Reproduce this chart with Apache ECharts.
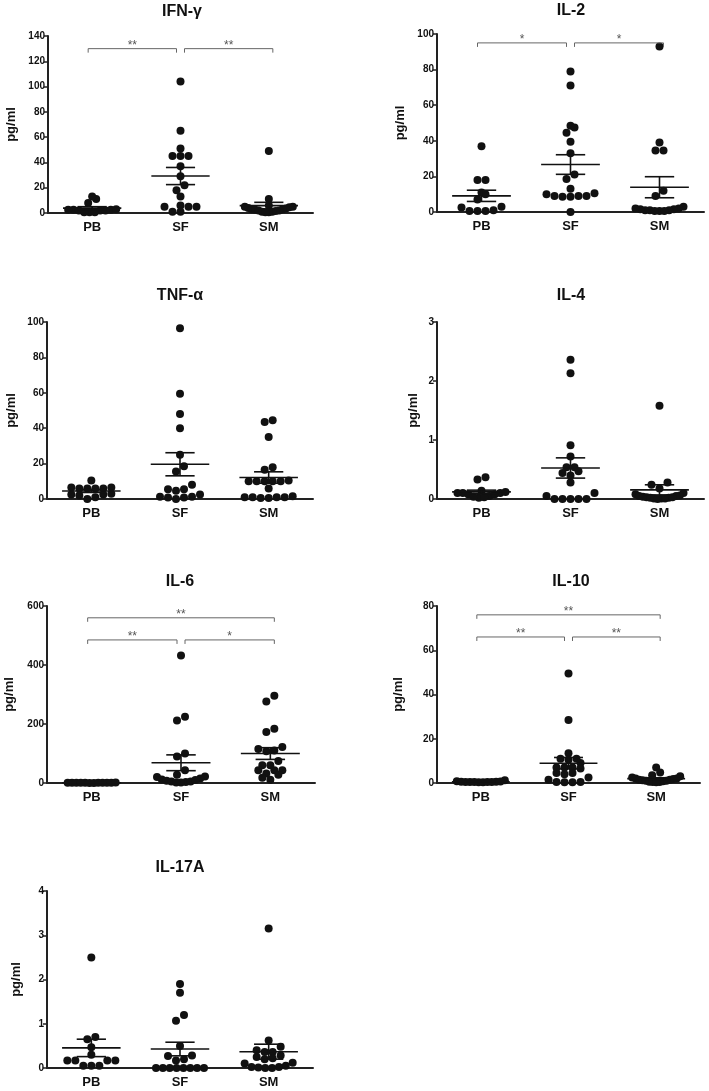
<!DOCTYPE html>
<html>
<head>
<meta charset="utf-8">
<script src="https://cdn.jsdelivr.net/npm/echarts@6/dist/echarts.min.js"></script>
<style>
  html, body { margin: 0; padding: 0; background: #fff; }
  #chart { width: 709px; height: 1091px; }
</style>
</head>
<body>
<div id="chart"></div>
<script>
const groups = ["PB", "SF", "SM"];
const titles = ["IFN-γ", "IL-2", "TNF-α", "IL-4", "IL-6", "IL-10", "IL-17A"];
const yMax = [140, 100, 100, 3, 600, 80, 4];
const yStep = [20, 20, 20, 1, 200, 20, 1];

// pg/ml per sample
const ifnPB = [11, 13, 8, 2.5, 2, 2.5, 2, 3, 2, 2.5, 0.5, 0.5, 0.5];
const ifnSF = [104, 65, 51, 45, 45, 45, 37, 29, 22, 18, 13, 5, 5, 5, 6, 1, 1];
const ifnSM = [49, 11, 6, 5, 5, 4.5, 4, 3.5, 3, 3, 2.5, 2, 2, 1.5, 1, 1, 0.5, 0.5];

const il2PB = [37, 18, 18, 11, 10, 7, 3, 2.5, 0.5, 0.5, 0.5, 1];
const il2SF = [79, 71, 48.5, 47.5, 44.5, 39.5, 33, 21, 18.5, 13, 10.5, 10, 9, 9, 8.5, 8.5, 9, 0];
const il2SM = [93, 39, 34.5, 34.5, 12, 9, 3, 2, 1.5, 1, 1, 0.5, 0.5, 0.5, 1, 1.5, 2];

const tnfPB = [10.4, 6.5, 6, 6, 6, 6, 6.5, 3, 2.5, 2.5, 2, 0, 1];
const tnfSF = [96.5, 59.5, 48, 40, 25, 18.5, 15.5, 8, 5.5, 5.5, 4.7, 2.6, 1.3, 0.8, 0, 0.8, 1.3];
const tnfSM = [44.5, 43.5, 35, 18, 16.5, 10, 10, 10.5, 10, 10, 10, 6, 1, 1, 0.5, 0.5, 1, 1, 1.5];

const il4PB = [0.37, 0.33, 0.1, 0.1, 0.08, 0.12, 0.14, 0.1, 0.05, 0.02, 0.03, 0.04, 0.08];
const il4SF = [2.36, 2.13, 0.91, 0.72, 0.54, 0.54, 0.47, 0.44, 0.4, 0.28, 0.1, 0.05, 0, 0, 0, 0, 0];
const il4SM = [1.58, 0.28, 0.24, 0.18, 0.1, 0.08, 0.06, 0.05, 0.04, 0.03, 0.02, 0.02, 0.01, 0.01, 0.01, 0, 0.05, 0.03];

const il6PB = [1, 0.8, 1.2, 0.5, 0.3, 1, 0.6, 0.4, 1.5, 0.7, 0.9, 0.5];
const il6SF = [432, 225, 212, 100, 90, 43, 28, 22, 20, 15, 12, 8, 5, 3, 2, 2, 5, 10];
const il6SM = [296, 276, 184, 173, 122, 115, 110, 108, 75, 60, 60, 43, 43, 43, 28, 32, 18, 11];

const il10PB = [0.3, 0.5, 0.4, 0.8, 1.2, 0.6, 0.5, 0.3, 0.4, 0.7, 0.5, 0.6];
const il10SF = [49.5, 28.5, 13.5, 11, 11, 10.5, 9, 7, 7, 7, 6.5, 4.5, 4.5, 4, 2.5, 1.5, 0.5, 0.5, 0.3, 0.3];
const il10SM = [7, 4.7, 3.5, 3, 2.5, 2, 2, 1.8, 1.5, 1.5, 1.2, 1, 1, 0.8, 0.6, 0.5, 0.5, 0.3];

const il17PB = [2.5, 0.65, 0.7, 0.47, 0.3, 0.17, 0.17, 0.17, 0.17, 0.05, 0.05, 0.05];
const il17SF = [1.9, 1.7, 1.2, 1.07, 0.5, 0.28, 0.27, 0.2, 0.17, 0, 0, 0, 0, 0, 0, 0, 0];
const il17SM = [3.15, 0.62, 0.48, 0.4, 0.36, 0.36, 0.28, 0.25, 0.22, 0.2, 0.12, 0.1, 0.05, 0.02, 0.02, 0.01, 0, 0];

// significance brackets: [from group, to group, height]
const ifnBrackets = [[0, 1, 130], [1, 2, 130]];
const ifnStars = ["**", "**"];
const il2Brackets = [[0, 1, 95], [1, 2, 95]];
const il2Stars = ["*", "*"];
const il6Brackets = [[0, 2, 560], [0, 1, 485], [1, 2, 485]];
const il6Stars = ["**", "**", "*"];
const il10Brackets = [[0, 2, 76], [0, 1, 66], [1, 2, 66]];
const il10Stars = ["**", "**", "**"];

const panelData = [
  [ifnPB, ifnSF, ifnSM],
  [il2PB, il2SF, il2SM],
  [tnfPB, tnfSF, tnfSM],
  [il4PB, il4SF, il4SM],
  [il6PB, il6SF, il6SM],
  [il10PB, il10SF, il10SM],
  [il17PB, il17SF, il17SM],
];
const panelBrackets = [ifnBrackets, il2Brackets, [], [], il6Brackets, il10Brackets, []];
const panelStars = [ifnStars, il2Stars, [], [], il6Stars, il10Stars, []];

const grids = [
  { left: 48, top: 36, width: 265, height: 177 },
  { left: 437, top: 34, width: 267, height: 178 },
  { left: 47, top: 322, width: 266, height: 177 },
  { left: 437, top: 322, width: 267, height: 177 },
  { left: 47, top: 606, width: 268, height: 177 },
  { left: 437, top: 606, width: 263, height: 177 },
  { left: 47, top: 891, width: 266, height: 177 },
];
const titlePos = [[182, 4], [571, 3], [180, 288], [571, 288], [180, 574], [571, 574], [180, 860]];
const nameGaps = [30, 30, 29, 17, 31, 32, 24];

const FONT = "Liberation Sans, Arial, sans-serif";
const INK = "#111";

function mean(a) {
  return a.reduce((s, v) => s + v, 0) / a.length;
}
function sem(a) {
  const m = mean(a);
  const ss = a.reduce((s, v) => s + (v - m) * (v - m), 0);
  return Math.sqrt(ss / (a.length - 1)) / Math.sqrt(a.length);
}

// prism-like scatter: points close in height share a row, centred on the group
function swarm(api, values, cat) {
  const d = 8, rowH = 6, maxHalf = 24;
  const py = values.map((v) => api.coord([cat, v])[1]);
  const order = values.map((v, i) => i).sort((a, b) => values[a] - values[b]);
  const dx = values.map(() => 0);
  let i = 0;
  while (i < order.length) {
    const start = py[order[i]];
    const row = [];
    while (i < order.length && start - py[order[i]] < rowH) {
      row.push(order[i]);
      i++;
    }
    const n = row.length;
    const s = n > 1 ? Math.min(d, (2 * maxHalf) / (n - 1)) : 0;
    const slots = [];
    for (let j = 0; j < n; j++) slots.push((j - (n - 1) / 2) * s);
    slots.sort((a, b) => Math.abs(a) - Math.abs(b) || a - b);
    row.forEach((idx, k) => {
      dx[idx] = slots[k];
    });
  }
  return dx;
}

const option = {
  animation: false,
  backgroundColor: "#fff",
  title: [],
  grid: [],
  xAxis: [],
  yAxis: [],
  series: [],
};

titles.forEach((t, p) => {
  option.title.push({
    text: t,
    left: titlePos[p][0],
    top: titlePos[p][1],
    textAlign: "center",
    padding: 0,
    textStyle: { fontFamily: FONT, fontWeight: "bold", fontSize: 16, color: INK },
  });
  option.grid.push(grids[p]);
  option.xAxis.push({
    gridIndex: p,
    type: "category",
    data: groups,
    boundaryGap: true,
    axisTick: { show: false },
    axisLine: { lineStyle: { color: "#222", width: 2 } },
    axisLabel: { color: INK, fontFamily: FONT, fontWeight: "bold", fontSize: 13, margin: 8 },
    splitLine: { show: false },
  });
  option.yAxis.push({
    gridIndex: p,
    type: "value",
    min: 0,
    max: yMax[p],
    interval: yStep[p],
    name: "pg/ml",
    nameLocation: "middle",
    nameGap: nameGaps[p],
    nameRotate: 90,
    nameTextStyle: { fontFamily: FONT, fontWeight: "bold", fontSize: 13, color: INK },
    axisLine: { show: true, lineStyle: { color: "#222", width: 2 } },
    axisTick: { show: true, length: 4, lineStyle: { color: "#222", width: 1.5 } },
    axisLabel: { color: INK, fontFamily: FONT, fontWeight: "bold", fontSize: 10, margin: 3 },
    splitLine: { show: false },
  });

  const pts = [];
  panelData[p].forEach((vals, cat) => {
    vals.forEach((v, k) => pts.push([cat, v, k]));
  });

  // dots
  option.series.push({
    type: "custom",
    xAxisIndex: p,
    yAxisIndex: p,
    encode: { x: 0, y: 1 },
    data: pts,
    z: 2,
    renderItem: (params, api) => {
      const cat = api.value(0);
      const k = api.value(2);
      const dx = swarm(api, panelData[p][cat], cat);
      const c = api.coord([cat, api.value(1)]);
      return {
        type: "circle",
        shape: { cx: c[0] + dx[k], cy: c[1], r: 4 },
        style: { fill: INK },
      };
    },
  });

  // mean +/- SEM
  option.series.push({
    type: "custom",
    xAxisIndex: p,
    yAxisIndex: p,
    encode: { x: 0, y: 1 },
    data: panelData[p].map((vals, cat) => [cat, mean(vals)]),
    z: 3,
    renderItem: (params, api) => {
      const cat = api.value(0);
      const vals = panelData[p][cat];
      const m = mean(vals);
      const e = sem(vals);
      const band = api.size([1, 0])[0];
      const c = api.coord([cat, m]);
      const hi = api.coord([cat, m + e]);
      const lo = api.coord([cat, m - e]);
      const w = band * 0.33;
      const cw = band * 0.165;
      const style = { stroke: INK, lineWidth: 1.6 };
      return {
        type: "group",
        children: [
          { type: "line", shape: { x1: c[0] - w, y1: c[1], x2: c[0] + w, y2: c[1] }, style },
          { type: "line", shape: { x1: hi[0] - cw, y1: hi[1], x2: hi[0] + cw, y2: hi[1] }, style },
          { type: "line", shape: { x1: lo[0] - cw, y1: lo[1], x2: lo[0] + cw, y2: lo[1] }, style },
          { type: "line", shape: { x1: c[0], y1: hi[1], x2: c[0], y2: lo[1] }, style },
        ],
      };
    },
  });

  if (panelBrackets[p].length) {
    option.series.push({
      type: "custom",
      xAxisIndex: p,
      yAxisIndex: p,
      encode: { x: [0, 1], y: 2 },
      data: panelBrackets[p],
      z: 4,
      renderItem: (params, api) => {
        const from = api.value(0);
        const to = api.value(1);
        const a = api.coord([from, api.value(2)]);
        const b = api.coord([to, api.value(2)]);
        const x1 = a[0] + (from === 1 ? 4 : -4);
        const x2 = b[0] + (to === 1 ? -4 : 4);
        const y = a[1];
        return {
          type: "group",
          children: [
            {
              type: "polyline",
              shape: { points: [[x1, y + 4], [x1, y], [x2, y], [x2, y + 4]] },
              style: { stroke: "#666", lineWidth: 1, fill: null },
            },
            {
              type: "text",
              x: (x1 + x2) / 2,
              y: y + 3,
              style: {
                text: panelStars[p][params.dataIndex],
                textAlign: "center",
                textVerticalAlign: "bottom",
                fontFamily: FONT,
                fontSize: 12,
                fill: "#555",
              },
            },
          ],
        };
      },
    });
  }
});

const chart = echarts.init(document.getElementById("chart"));
chart.setOption(option);
</script>
</body>
</html>
